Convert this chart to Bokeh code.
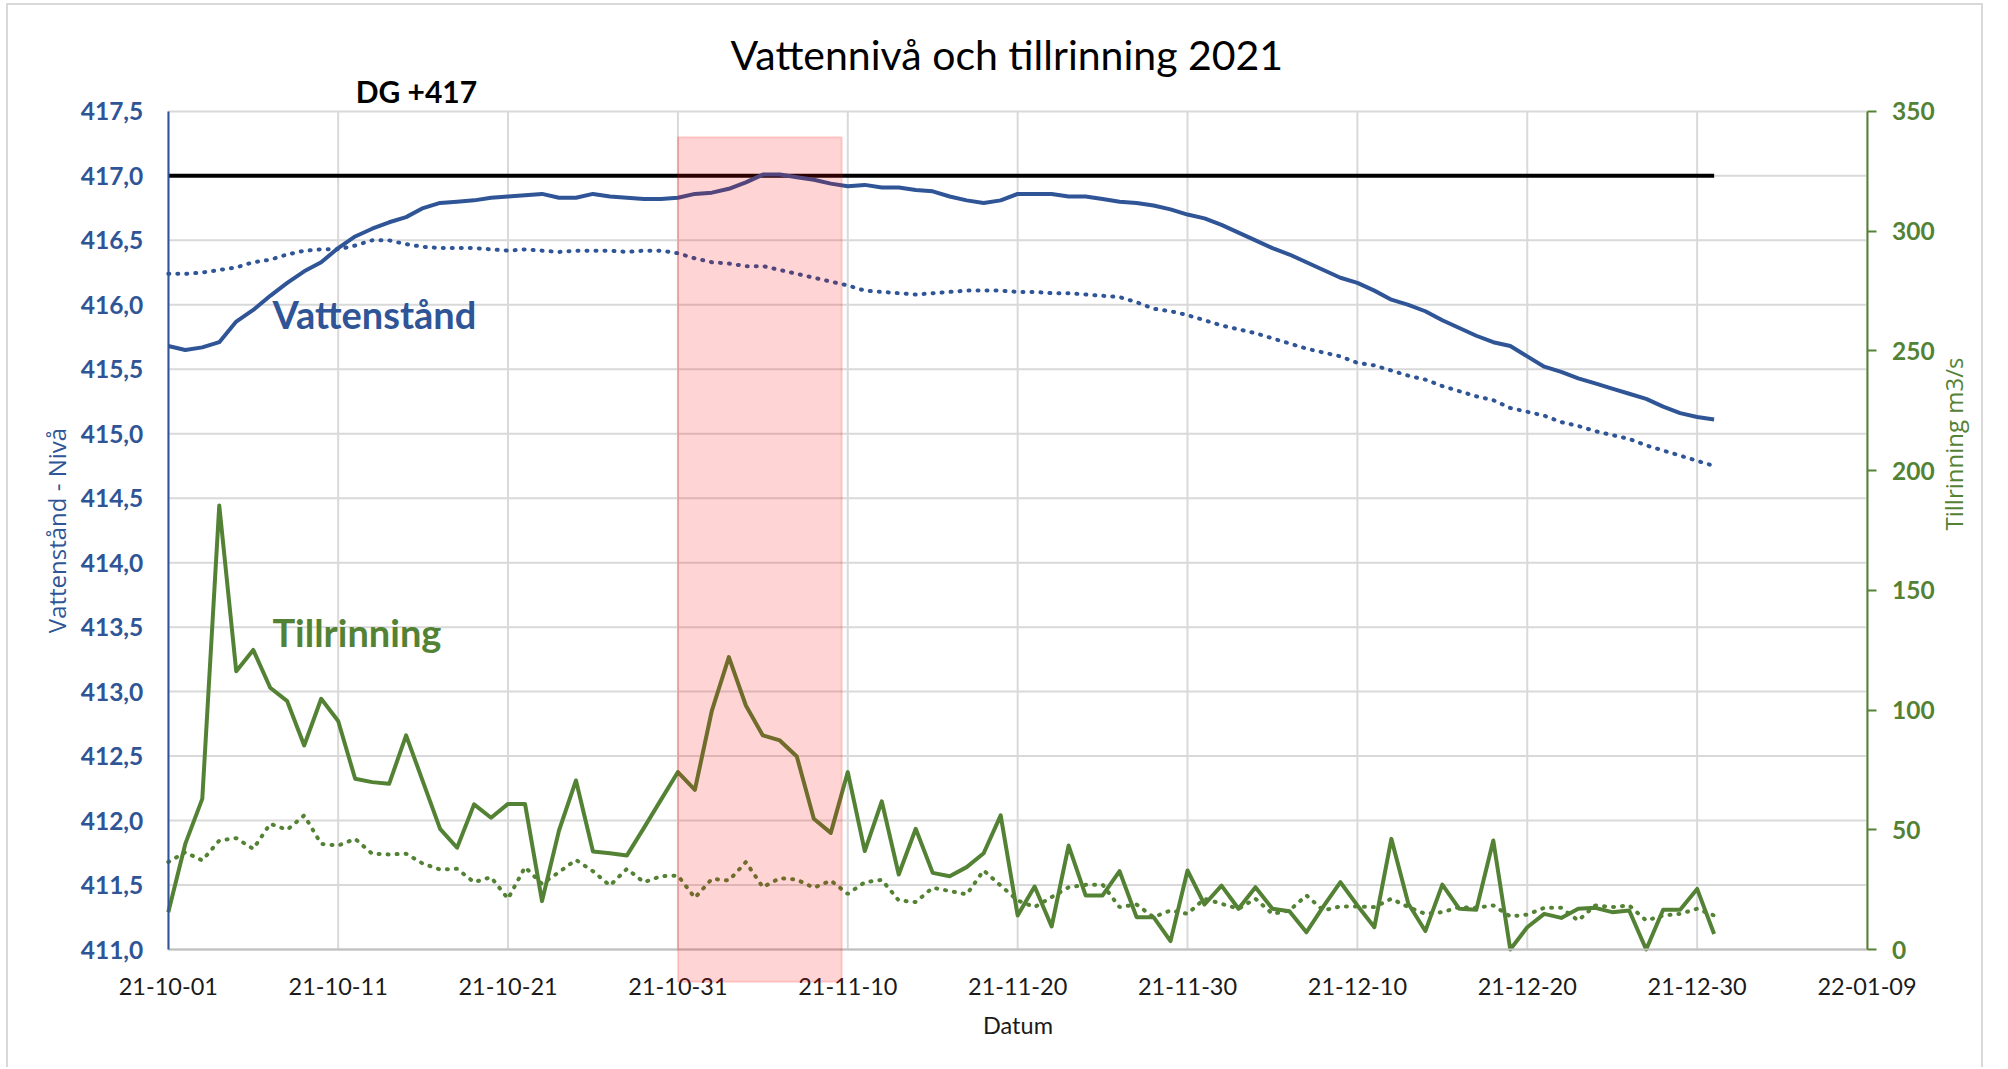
import math
import pandas as pd
from bokeh.plotting import figure
from bokeh.models import Range1d, LinearAxis, FixedTicker, BoxAnnotation, Label
from bokeh.embed import file_html
from bokeh.resources import INLINE

# ---------------- data ----------------
start = pd.Timestamp("2021-10-01")
dates = pd.date_range("2021-10-01", "2021-12-31", freq="D")
x = [(d - start).days for d in dates]

x_tick_labels = ["21-10-01", "21-10-11", "21-10-21", "21-10-31", "21-11-10", "21-11-20",
                 "21-11-30", "21-12-10", "21-12-20", "21-12-30", "22-01-09"]
x_ticks = [(pd.Timestamp("20" + t) - start).days for t in x_tick_labels]

left_ticks = [411.0, 411.5, 412.0, 412.5, 413.0, 413.5, 414.0, 414.5,
              415.0, 415.5, 416.0, 416.5, 417.0, 417.5]
left_tick_labels = ["411,0", "411,5", "412,0", "412,5", "413,0", "413,5", "414,0", "414,5",
                    "415,0", "415,5", "416,0", "416,5", "417,0", "417,5"]
right_ticks = [0, 50, 100, 150, 200, 250, 300, 350]

# Vattenstånd 2021 (solid blue)
level_2021 = [
    415.68, 415.65, 415.67, 415.71, 415.87, 415.96, 416.07, 416.17, 416.26, 416.33,
    416.44, 416.53, 416.59, 416.64, 416.68, 416.75, 416.79, 416.80, 416.81, 416.83,
    416.84, 416.85, 416.86, 416.83, 416.83, 416.86, 416.84, 416.83, 416.82, 416.82,
    416.83, 416.86, 416.87, 416.90, 416.95, 417.01, 417.01, 416.99, 416.97, 416.94,
    416.92, 416.93, 416.91, 416.91, 416.89, 416.88, 416.84, 416.81, 416.79, 416.81,
    416.86, 416.86, 416.86, 416.84, 416.84, 416.82, 416.80, 416.79, 416.77, 416.74,
    416.70, 416.67, 416.62, 416.56, 416.50, 416.44, 416.39, 416.33, 416.27, 416.21,
    416.17, 416.11, 416.04, 416.00, 415.95, 415.88, 415.82, 415.76, 415.71, 415.68,
    415.60, 415.52, 415.48, 415.43, 415.39, 415.35, 415.31, 415.27, 415.21, 415.16,
    415.13, 415.11]

# Vattenstånd reference (dotted blue)
level_ref = [
    416.24, 416.24, 416.25, 416.27, 416.29, 416.33, 416.35, 416.39, 416.42, 416.43,
    416.43, 416.46, 416.50, 416.50, 416.47, 416.45, 416.44, 416.44, 416.44, 416.43,
    416.42, 416.43, 416.42, 416.41, 416.42, 416.42, 416.42, 416.41, 416.42, 416.42,
    416.40, 416.36, 416.33, 416.32, 416.30, 416.30, 416.27, 416.24, 416.21, 416.18,
    416.15, 416.11, 416.10, 416.09, 416.08, 416.09, 416.10, 416.11, 416.11, 416.11,
    416.10, 416.10, 416.09, 416.09, 416.08, 416.07, 416.06, 416.02, 415.97, 415.95,
    415.92, 415.88, 415.84, 415.81, 415.78, 415.74, 415.70, 415.66, 415.63, 415.60,
    415.55, 415.53, 415.49, 415.45, 415.42, 415.37, 415.33, 415.29, 415.26, 415.20,
    415.17, 415.14, 415.09, 415.06, 415.02, 414.99, 414.96, 414.91, 414.87, 414.83,
    414.79, 414.75]

# Tillrinning 2021 (solid green, m3/s)
inflow_2021 = [
    15.6, 44.1, 62.9, 185.4, 116.2, 125.1, 109.3, 103.7, 85.2, 104.7,
    95.4, 71.3, 69.9, 69.2, 89.4, 69.9, 50.4, 42.5, 60.6, 55.0,
    60.8, 60.8, 20.2, 49.7, 70.6, 40.9, 40.2, 39.3, 50.8, 62.5,
    74.1, 66.7, 99.8, 122.1, 101.9, 89.4, 87.3, 80.6, 54.6, 48.7,
    74.1, 41.1, 61.9, 31.3, 50.4, 32.0, 30.6, 34.4, 40.2, 56.0,
    14.2, 26.3, 9.6, 43.4, 22.6, 22.6, 32.7, 13.5, 13.5, 3.5,
    33.0, 18.8, 26.7, 17.0, 26.0, 17.0, 16.0, 7.2, 18.0, 28.1,
    18.4, 9.3, 46.2, 19.1, 7.7, 27.1, 17.0, 16.6, 45.5, 0.0,
    9.3, 14.9, 13.2, 17.0, 17.4, 15.6, 16.3, 0.0, 16.6, 16.6,
    25.3, 6.5]

# Tillrinning reference (dotted green, m3/s)
inflow_ref = [
    36.5, 40.6, 37.2, 45.5, 46.5, 42.0, 52.5, 50.0, 56.0, 44.1,
    43.4, 46.2, 40.0, 39.7, 40.0, 35.8, 33.4, 33.7, 28.1, 30.2,
    21.2, 34.4, 27.4, 32.3, 37.4, 32.7, 26.7, 33.7, 28.1, 30.6,
    30.9, 21.6, 29.5, 28.8, 36.5, 26.0, 29.8, 29.2, 25.8, 28.8,
    23.2, 28.1, 29.1, 20.5, 19.8, 25.8, 24.4, 23.0, 33.0, 26.7,
    20.5, 17.7, 21.9, 26.0, 27.0, 27.1, 17.7, 18.8, 13.5, 16.3,
    14.9, 21.2, 19.1, 17.0, 21.2, 14.9, 16.3, 22.6, 16.3, 18.0,
    18.0, 17.7, 21.2, 17.7, 14.9, 15.6, 17.7, 17.4, 18.4, 13.8,
    14.6, 17.4, 17.4, 12.1, 18.4, 17.7, 18.4, 12.1, 14.2, 14.9,
    17.0, 14.2]

dg_level = 417.0
level_min, level_max = 411.0, 417.5
flow_min, flow_max = 0, 350
day_min, day_max = x_ticks[0], x_ticks[-1]
highlight_start = (pd.Timestamp("2021-10-31") - start).days
highlight_end = (pd.Timestamp("2021-11-09") - start).days + 15.5 / 24

BLUE = "#2F5597"
GREEN = "#548235"
GRID = "#D9D9D9"

# ---------------- layout geometry (pixels, canvas-relative) ----------------
W, H = 1977, 1064
PLOT_L, PLOT_R = 159.8, 1858.5     # where day_min / day_max land
PLOT_T, PLOT_B = 105.9, 944.0      # where level_max / level_min land

px_per_day = (PLOT_R - PLOT_L) / (day_max - day_min)
px_per_lvl = (PLOT_B - PLOT_T) / (level_max - level_min)
px_per_flow = (PLOT_B - PLOT_T) / (flow_max - flow_min)

x_lo = day_min - PLOT_L / px_per_day
x_hi = x_lo + W / px_per_day
lvl_hi = level_max + PLOT_T / px_per_lvl
lvl_lo = lvl_hi - H / px_per_lvl
flow_hi = flow_max + PLOT_T / px_per_flow
flow_lo = flow_hi - H / px_per_flow

# ---------------- figure (frame covers the whole canvas) ----------------
p = figure(width=W, height=H, output_backend="svg", toolbar_location=None,
           x_range=Range1d(x_lo, x_hi), y_range=Range1d(lvl_lo, lvl_hi),
           min_border_left=0, min_border_right=0, min_border_top=0, min_border_bottom=0)
p.styles = {"margin-left": "6px", "margin-top": "3px",
            "border-left": "2px solid #D9D9D9", "border-top": "2px solid #D9D9D9",
            "border-right": "2px solid #D9D9D9"}
p.title.visible = False
p.outline_line_color = None
p.background_fill_color = "white"
p.border_fill_color = "white"
p.extra_y_ranges = {"flow": Range1d(flow_lo, flow_hi)}
p.xgrid.visible = False
p.ygrid.visible = False

# grid lines over the value area only
p.segment(x0=[day_min] * len(left_ticks), y0=left_ticks,
          x1=[day_max] * len(left_ticks), y1=left_ticks, line_color=GRID, line_width=2)
p.segment(x0=x_ticks, y0=[level_min] * len(x_ticks),
          x1=x_ticks, y1=[level_max] * len(x_ticks), line_color=GRID, line_width=2)

# x axis
xa = p.xaxis[0]
xa.fixed_location = level_min
xa.bounds = (day_min, day_max)
xa.ticker = FixedTicker(ticks=x_ticks)
xa.major_label_overrides = {t: l for t, l in zip(x_ticks, x_tick_labels)}
xa.major_label_text_font = "Lato"
xa.major_label_text_font_size = "23.5px"
xa.major_label_text_color = "#1a1a1a"
xa.major_label_standoff = 28
xa.major_tick_out = 0
xa.major_tick_in = 0
xa.minor_tick_out = 0
xa.minor_tick_in = 0
xa.axis_line_color = "#BFBFBF"
xa.axis_line_width = 2
xa.axis_label = "Datum"
xa.axis_label_text_font = "Lato"
xa.axis_label_text_font_size = "23.5px"
xa.axis_label_text_font_style = "normal"
xa.axis_label_text_color = "#1a1a1a"
xa.axis_label_standoff = 13

# left axis
ya = p.yaxis[0]
ya.fixed_location = day_min
ya.bounds = (level_min, level_max)
ya.ticker = FixedTicker(ticks=left_ticks)
ya.major_label_overrides = {t: l for t, l in zip(left_ticks, left_tick_labels)}
ya.major_label_text_font = "Lato"
ya.major_label_text_font_style = "bold"
ya.major_label_text_font_size = "24.5px"
ya.major_label_text_color = BLUE
ya.major_label_standoff = 25
ya.major_tick_out = 0
ya.major_tick_in = 0
ya.minor_tick_out = 0
ya.minor_tick_in = 0
ya.axis_line_color = BLUE
ya.axis_line_width = 2
ya.axis_label = "Vattenstånd - Nivå"
ya.axis_label_text_font = "Open Sans"
ya.axis_label_text_font_size = "24px"
ya.axis_label_text_font_style = "normal"
ya.axis_label_text_color = BLUE
ya.axis_label_standoff = 5

# right axis
ra = LinearAxis(y_range_name="flow", ticker=FixedTicker(ticks=right_ticks),
                bounds=(flow_min, flow_max), fixed_location=day_max)
ra.major_label_text_font = "Lato"
ra.major_label_text_font_style = "bold"
ra.major_label_text_font_size = "24.5px"
ra.major_label_text_color = GREEN
ra.major_label_standoff = 16
ra.major_tick_out = 9
ra.major_tick_in = 0
ra.major_tick_line_color = GREEN
ra.major_tick_line_width = 2
ra.minor_tick_out = 0
ra.minor_tick_in = 0
ra.axis_line_color = GREEN
ra.axis_line_width = 2
ra.axis_label = "Tillrinning m3/s"
ra.axis_label_text_font = "Open Sans"
ra.axis_label_text_font_size = "24px"
ra.axis_label_text_font_style = "normal"
ra.axis_label_text_color = GREEN
ra.axis_label_standoff = 15
ra.axis_label_orientation = math.pi / 2
p.add_layout(ra, "right")

# ---------------- series ----------------
p.line(x, inflow_ref, y_range_name="flow", line_color=GREEN, line_width=4,
       line_dash="1 8", line_cap="round")
p.line(x, inflow_2021, y_range_name="flow", line_color=GREEN, line_width=4, line_join="round")
p.line([x[0], x[-1]], [dg_level, dg_level], line_color="black", line_width=4)
p.line(x, level_ref, line_color=BLUE, line_width=4, line_dash="1 8", line_cap="round")
p.line(x, level_2021, line_color=BLUE, line_width=4, line_join="round")

box = BoxAnnotation(left=highlight_start, right=highlight_end, top=417.3, bottom=410.75,
                    fill_color="#FF0000", fill_alpha=0.17,
                    line_color="#FF0000", line_alpha=0.15, line_width=2)
p.add_layout(box)

# ---------------- texts ----------------
p.add_layout(Label(x=33.10, y=417.938, text="Vattennivå och tillrinning 2021",
                   text_align="left", text_baseline="alphabetic",
                   text_font="Lato", text_font_size="41px", text_color="black"))
p.add_layout(Label(x=11.03, y=417.66, text="DG +417",
                   text_align="left", text_baseline="alphabetic",
                   text_font="Lato", text_font_size="30px", text_font_style="bold",
                   text_color="black"))
p.add_layout(Label(x=6.13, y=415.926, text="Vattenstånd",
                   text_align="left", text_baseline="alphabetic",
                   text_font="Lato", text_font_size="38px", text_font_style="bold",
                   text_color=BLUE))
p.add_layout(Label(x=6.13, y=413.461, text="Tillrinning",
                   text_align="left", text_baseline="alphabetic",
                   text_font="Lato", text_font_size="38px", text_font_style="bold",
                   text_color=GREEN))

open("out.html", "w").write(file_html(p, INLINE))
